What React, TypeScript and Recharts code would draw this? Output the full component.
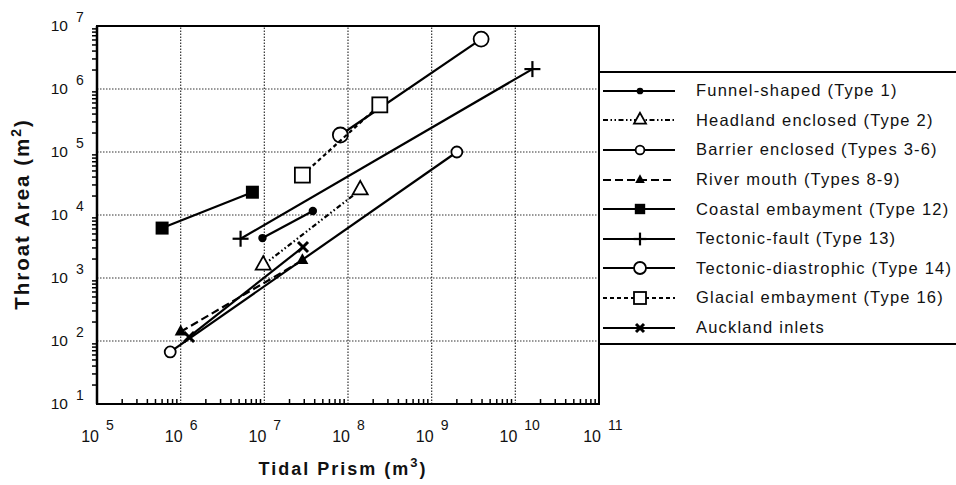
import React from 'react';
import {
  Label,
  Legend,
  ReferenceArea,
  ReferenceLine,
  Scatter,
  ScatterChart,
  XAxis,
  YAxis
} from 'recharts';

const FONT = 'Arial, "Liberation Sans", Helvetica, sans-serif';
const INK = '#111';

// axis decades (m3 and m2), minor log steps inside each decade
const xMajor = [1e5, 1e6, 1e7, 1e8, 1e9, 1e10, 1e11];
const yMajor = [1e1, 1e2, 1e3, 1e4, 1e5, 1e6, 1e7];
const minorSteps = [2, 3, 4, 5, 6, 7, 8, 9];

// tidal prism (x, m3) vs throat area (y, m2), end points of each relation
const funnelShaped = [
  { x: 9.5e6, y: 4300 },
  { x: 3.8e7, y: 11600 }
];
const headlandEnclosed = [
  { x: 9.7e6, y: 1600 },
  { x: 1.4e8, y: 25000 }
];
const barrierEnclosed = [
  { x: 7.5e5, y: 67 },
  { x: 2.0e9, y: 1.0e5 }
];
const riverMouth = [
  { x: 1.0e6, y: 140 },
  { x: 2.85e7, y: 1900 }
];
const coastalEmbayment = [
  { x: 6.0e5, y: 6200 },
  { x: 7.2e6, y: 23000 }
];
const tectonicFault = [
  { x: 5.2e6, y: 4200 },
  { x: 1.6e10, y: 2.07e6 }
];
const tectonicDiastrophic = [
  { x: 8.1e7, y: 1.86e5 },
  { x: 3.9e9, y: 6.2e6 }
];
const glacialEmbayment = [
  { x: 2.85e7, y: 4.3e4 },
  { x: 2.4e8, y: 5.6e5 }
];
const aucklandInlets = [
  { x: 1.26e6, y: 116 },
  { x: 2.9e7, y: 3100 }
];

type Kind = 'dot' | 'tri' | 'ring' | 'solidTri' | 'solidSquare' | 'plus' | 'bigRing' | 'square' | 'cross';

const series: { name: string; data: { x: number; y: number }[]; kind: Kind; dash?: string }[] = [
  { name: 'Funnel-shaped (Type 1)', data: funnelShaped, kind: 'dot' },
  { name: 'Headland enclosed (Type 2)', data: headlandEnclosed, kind: 'tri', dash: '5 2.5 1.5 2.5 1.5 2.5' },
  { name: 'Barrier enclosed (Types 3-6)', data: barrierEnclosed, kind: 'ring' },
  { name: 'River mouth (Types 8-9)', data: riverMouth, kind: 'solidTri', dash: '8 4' },
  { name: 'Coastal embayment (Type 12)', data: coastalEmbayment, kind: 'solidSquare' },
  { name: 'Tectonic-fault (Type 13)', data: tectonicFault, kind: 'plus' },
  { name: 'Tectonic-diastrophic (Type 14)', data: tectonicDiastrophic, kind: 'bigRing' },
  { name: 'Glacial embayment (Type 16)', data: glacialEmbayment, kind: 'square', dash: '4 3' },
  { name: 'Auckland inlets', data: aucklandInlets, kind: 'cross' }
];

// minor tick positions, placed on the axes through a scatter layer
const minorsOf = (decades: number[]) => decades.slice(0, -1).flatMap((d) => minorSteps.map((m) => m * d));
const xMinorMarks = minorsOf(xMajor).map((v) => ({ x: v, y: yMajor[0] }));
const yMinorMarks = minorsOf(yMajor).map((v) => ({ x: xMajor[0], y: v }));

function Marker({ kind, cx, cy, s = 1 }: { kind: Kind; cx: number; cy: number; s?: number }) {
  if (cx == null || cy == null) return null;
  switch (kind) {
    case 'dot':
      return <circle cx={cx} cy={cy} r={4.2 * s} fill="#000" />;
    case 'ring':
      return <circle cx={cx} cy={cy} r={5.5 * s} fill="#fff" stroke="#000" strokeWidth={1.8} />;
    case 'bigRing':
      return <circle cx={cx} cy={cy} r={7.5 * s} fill="#fff" stroke="#000" strokeWidth={1.8} />;
    case 'tri':
    case 'solidTri': {
      const w = (kind === 'tri' ? 15 : 12) * s;
      const h = w * 0.9;
      const pts = `${cx},${cy - (h * 2) / 3} ${cx - w / 2},${cy + h / 3} ${cx + w / 2},${cy + h / 3}`;
      return kind === 'tri' ? (
        <polygon points={pts} fill="#fff" stroke="#000" strokeWidth={1.8} strokeLinejoin="miter" />
      ) : (
        <polygon points={pts} fill="#000" />
      );
    }
    case 'solidSquare': {
      const a = 13 * s;
      return <rect x={cx - a / 2} y={cy - a / 2} width={a} height={a} fill="#000" />;
    }
    case 'square': {
      const a = 15 * s;
      return <rect x={cx - a / 2} y={cy - a / 2} width={a} height={a} fill="#fff" stroke="#000" strokeWidth={1.8} />;
    }
    case 'plus': {
      const a = 8 * s;
      return (
        <g stroke="#000" strokeWidth={2.2}>
          <line x1={cx - a} x2={cx + a} y1={cy} y2={cy} />
          <line x1={cx} x2={cx} y1={cy - a} y2={cy + a} />
        </g>
      );
    }
    case 'cross': {
      const a = 5 * s;
      return (
        <g stroke="#000" strokeWidth={3}>
          <line x1={cx - a} x2={cx + a} y1={cy - a} y2={cy + a} />
          <line x1={cx - a} x2={cx + a} y1={cy + a} y2={cy - a} />
        </g>
      );
    }
  }
  return null;
}

// inward tick on the bottom axis
function BottomTick(p: any) {
  if (p.cx == null || p.cy == null) return null;
  return <path d={`M${p.cx},${p.cy}V${p.cy - 5}`} stroke="#000" strokeWidth={1.5} fill="none" />;
}

// outward tick on the left axis
function LeftTick(p: any) {
  if (p.cx == null || p.cy == null) return null;
  return <path d={`M${p.cx},${p.cy}H${p.cx - 5}`} stroke="#000" strokeWidth={1.5} fill="none" />;
}

function XTick(props: any) {
  const x = Number(props.x);
  const y = Number(props.y);
  const v = Number(props.payload.value);
  return (
    <g fontFamily={FONT} fill={INK}>
      <text x={x + 2} y={y + 38} textAnchor="end" fontSize={16}>
        10
      </text>
      <text x={x + 9} y={y + 26} fontSize={14}>
        {Math.round(Math.log10(v))}
      </text>
    </g>
  );
}

function YTick(props: any) {
  const x = Number(props.x);
  const y = Number(props.y);
  const v = Number(props.payload.value);
  return (
    <g fontFamily={FONT} fill={INK}>
      <text x={x - 29} y={y + 5} textAnchor="end" fontSize={15.5}>
        10
      </text>
      <text x={x - 21} y={y - 4} fontSize={14}>
        {Math.round(Math.log10(v))}
      </text>
    </g>
  );
}

function XTitle(props: any) {
  const vb = props.viewBox || { x: 97, width: 502 };
  return (
    <text
      x={vb.x + vb.width / 2 - 5}
      y={475}
      textAnchor="middle"
      fontFamily={FONT}
      fontWeight="bold"
      fontSize={18}
      letterSpacing={2}
      fill={INK}
    >
      Tidal Prism (m
      <tspan dy={-8} fontSize={13}>
        3
      </tspan>
      <tspan dy={8}>)</tspan>
    </text>
  );
}

function YTitle() {
  return (
    <text
      transform="translate(29,214) rotate(-90)"
      textAnchor="middle"
      fontFamily={FONT}
      fontWeight="bold"
      fontSize={20.5}
      letterSpacing={2}
      fill={INK}
    >
      Throat Area (m
      <tspan dy={-8} fontSize={14}>
        2
      </tspan>
      <tspan dy={8}>)</tspan>
    </text>
  );
}

function LegendBox() {
  return (
    <div
      style={{
        boxSizing: 'border-box',
        width: 358,
        height: 274,
        borderTop: '2px solid #000',
        borderBottom: '2px solid #000',
        borderLeft: '2px solid #000',
        background: '#fff',
        paddingTop: 3,
        fontFamily: FONT,
        fontSize: 16.5,
        letterSpacing: 1.2,
        color: INK
      }}
    >
      {series.map((s) => (
        <div key={s.name} style={{ display: 'flex', alignItems: 'center', height: 29.6 }}>
          <svg width={82} height={22} style={{ flex: 'none' }}>
            <line x1={3} x2={75} y1={11} y2={11} stroke="#000" strokeWidth={1.8} strokeDasharray={s.dash} />
            <Marker kind={s.kind} cx={40} cy={11} s={0.8} />
          </svg>
          <span style={{ marginLeft: 14, whiteSpace: 'nowrap' }}>{s.name}</span>
        </div>
      ))}
    </div>
  );
}

export default function App() {
  return (
    <div style={{ position: 'absolute', left: 0, top: 0, width: 956, height: 485, overflow: 'hidden', background: '#fff' }}>
      <ScatterChart width={956} height={485} margin={{ top: 26, right: 357, bottom: 21, left: 0 }}>
        <XAxis
          type="number"
          dataKey="x"
          scale="log"
          domain={[1e5, 1e11]}
          ticks={xMajor}
          interval={0}
          tickSize={0}
          tickMargin={0}
          tickLine={false}
          tick={XTick}
          height={60}
          axisLine={{ stroke: '#000', strokeWidth: 2 }}
        >
          <Label content={XTitle} />
        </XAxis>
        <YAxis
          type="number"
          dataKey="y"
          scale="log"
          domain={[1e1, 1e7]}
          ticks={yMajor}
          interval={0}
          tickSize={0}
          tickMargin={0}
          tickLine={false}
          tick={YTick}
          width={97}
          axisLine={{ stroke: '#000', strokeWidth: 2.5 }}
        >
          <Label content={YTitle} />
        </YAxis>
        {xMajor.slice(1, -1).map((v) => (
          <ReferenceLine key={`gx${v}`} x={v} stroke="#333" strokeWidth={1.2} strokeDasharray="1.5 1.5" />
        ))}
        {yMajor.slice(1, -1).map((v) => (
          <ReferenceLine key={`gy${v}`} y={v} stroke="#333" strokeWidth={1.2} strokeDasharray="1.5 1.5" />
        ))}
        <ReferenceArea
          x1={xMajor[0]}
          x2={xMajor[xMajor.length - 1]}
          y1={yMajor[0]}
          y2={yMajor[yMajor.length - 1]}
          fill="none"
          stroke="#000"
          strokeWidth={2}
        />
        <Scatter
          name="x minor ticks"
          data={xMinorMarks}
          legendType="none"
          isAnimationActive={false}
          shape={BottomTick}
        />
        <Scatter
          name="y minor ticks"
          data={yMinorMarks}
          legendType="none"
          isAnimationActive={false}
          shape={LeftTick}
        />
        {series.map((s) => (
          <Scatter
            key={s.name}
            name={s.name}
            data={s.data}
            legendType="none"
            isAnimationActive={false}
            line={{ stroke: '#000', strokeWidth: 2.2, strokeDasharray: s.dash }}
            shape={(p: any) => <Marker kind={s.kind} cx={p.cx} cy={p.cy} />}
          />
        ))}
        <Legend
          layout="horizontal"
          verticalAlign="middle"
          align="center"
          wrapperStyle={{ left: 598, top: 71, width: 358, height: 274 }}
          content={() => <LegendBox />}
        />
      </ScatterChart>
    </div>
  );
}
